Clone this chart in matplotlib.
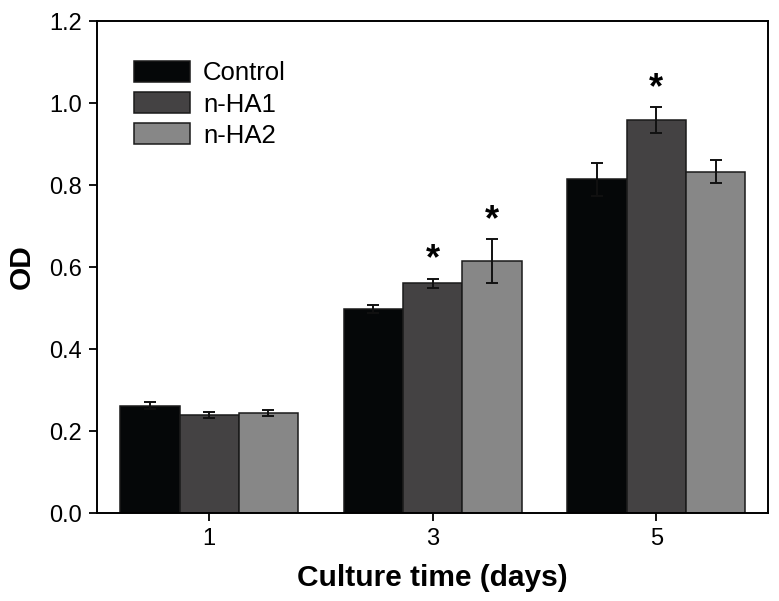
import matplotlib
matplotlib.use("Agg")
import matplotlib.pyplot as plt
import numpy as np

plt.rcParams['font.family'] = ['Liberation Sans', 'DejaVu Sans']

days = [1, 3, 5]
series = ["Control", "n-HA1", "n-HA2"]
control = [0.262, 0.497, 0.814]
nha1 = [0.239, 0.560, 0.959]
nha2 = [0.244, 0.615, 0.832]
control_err = [0.008, 0.010, 0.040]
nha1_err = [0.007, 0.012, 0.031]
nha2_err = [0.007, 0.053, 0.028]
# significance markers: (series index, group index)
stars = [(1, 1), (2, 1), (1, 2)]

colors = ["#050708", "#444243", "#878787"]
values = [control, nha1, nha2]
errs = [control_err, nha1_err, nha2_err]

fig = plt.figure(figsize=(7.79, 6.01), dpi=100)
ax = fig.add_axes([0.125, 0.1464, 0.861, 0.8186])

width = 0.53
x = np.array(days, dtype=float)
for i, (name, v, e, c) in enumerate(zip(series, values, errs, colors)):
    pos = x + (i - 1) * width
    ax.bar(pos, v, width=width, color=c, edgecolor="#1a1a1a", linewidth=1.1,
           label=name, zorder=2)
    ax.errorbar(pos, v, yerr=e, fmt="none", ecolor="#111111", elinewidth=1.4,
                capsize=4.5, capthick=1.4, zorder=3)

for si, gi in stars:
    xp = x[gi] + (si - 1) * width
    yp = values[si][gi] + errs[si][gi]
    ax.annotate("*", (xp, yp), xytext=(0, 1), textcoords="offset points",
                ha="center", va="bottom", fontsize=26, fontweight="bold")

ax.set_xlim(0, 6)
ax.set_ylim(0, 1.2)
ax.set_xticks(days)
ax.set_xticklabels([str(d) for d in days])
ax.set_yticks(np.arange(0, 1.21, 0.2))
ax.set_yticklabels([f"{t:.1f}" for t in np.arange(0, 1.21, 0.2)])
ax.tick_params(axis="both", direction="out", length=6, width=1.3, labelsize=17, pad=5)
for s in ax.spines.values():
    s.set_linewidth(1.4)

ax.set_xlabel("Culture time (days)", fontsize=21.5, fontweight="bold", labelpad=10)
ax.set_ylabel("OD", fontsize=21.5, fontweight="bold", labelpad=10)

ax.legend(loc="upper left", bbox_to_anchor=(0.028, 0.955), frameon=False,
          fontsize=18.5, handlelength=2.18, handleheight=0.86, labelspacing=0.27,
          handletextpad=0.5, borderpad=0.2)

fig.savefig("out.png", dpi=100)
